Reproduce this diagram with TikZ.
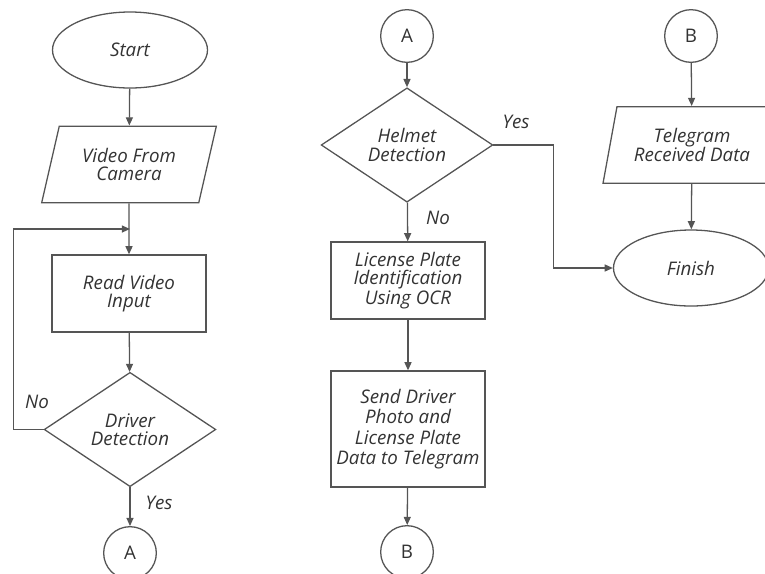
\documentclass[tikz,border=0pt]{standalone}
\usepackage{fontspec}
\setmainfont{Open Sans}
\usepackage{tikz}
\usetikzlibrary{positioning,arrows.meta,shapes.geometric}
\definecolor{flowline}{HTML}{555555}
\definecolor{flowtext}{HTML}{333333}

\begin{document}
\begin{tikzpicture}[
    line width=1.1pt,
    every node/.style={font=\fontsize{16}{15.5}\selectfont\itshape, text=flowtext},
    terminal/.style={draw=flowline, ellipse, minimum width=4.65cm, minimum height=2.28cm, inner sep=0pt},
    process/.style={draw=flowline, rectangle, minimum width=4.62cm, minimum height=#1, align=center, inner sep=0pt},
    decision/.style={draw=flowline, diamond, minimum width=5.15cm, minimum height=3.43cm, inner sep=0pt, align=center},
    io/.style={draw=flowline, trapezium, trapezium left angle=#1, trapezium right angle=180-#1,
               trapezium stretches=true, minimum height=2.3cm, inner sep=0pt, align=center},
    connector/.style={draw=flowline, circle, minimum size=1.58cm, inner sep=0pt,
                      font=\fontsize{16}{15.5}\selectfont\upshape},
    flow/.style={draw=flowline, -{Triangle[length=7pt, width=6pt]}}
]
    \useasboundingbox (0,0) rectangle (22.95,-17.19);

    % Left column
    \node[terminal] (start) at (3.9, -1.5) {Start};
    \node[io=70, minimum width=5.28cm] (camera) at (3.87, -4.935) {Video From\\Camera};
    \node[process=2.31cm] (read) at (3.87, -8.805) {Read Video\\Input};
    \node[decision] (driver) at (3.9, -12.885) {Driver\\Detection};
    \node[connector] (outa) at (3.9, -16.59) {A};
    \coordinate (join) at (3.9, -6.87);

    % Middle column
    \node[connector] (ina) at (12.21, -1.08) {A};
    \node[decision] (helmet) at (12.21, -4.35) {Helmet\\Detection};
    \node[process=2.31cm] (plate) at (12.24, -8.415) {License Plate\\Identification\\Using OCR};
    \node[process=3.48cm, font=\fontsize{16}{17.5}\selectfont\itshape] (send) at (12.24, -12.87)
        {Send Driver\\Photo and\\License Plate\\Data to Telegram};
    \node[connector] (outb) at (12.21, -16.56) {B};

    % Right column
    \node[connector] (inb) at (20.73, -1.08) {B};
    \node[io=72.5, minimum width=5.34cm] (telegram) at (20.76, -4.35) {Telegram\\Received Data};
    \node[terminal] (finish) at (20.73, -8.04) {Finish};

    % Arrows
    \foreach \a/\b in {start/camera, camera/read, read/driver, driver/outa,
                       ina/helmet, helmet/plate, plate/send, send/outb,
                       inb/telegram, telegram/finish} {
        \draw[flow] (\a) -- (\b);
    }

    % Branches
    \draw[flow] (driver.west) -- ++(-0.9,0) |- (join);
    \draw[flow] (helmet.east) -- ++(1.8,0) |- (finish.west);

    % Labels
    \node (drvno) at (1.11, -12.06) {No};
    \node (drvyes) at (4.77, -15.09) {Yes};
    \node (hlmyes) at (15.48, -3.66) {Yes};
    \node (hlmno) at (13.14, -6.54) {No};
\end{tikzpicture}
\end{document}
